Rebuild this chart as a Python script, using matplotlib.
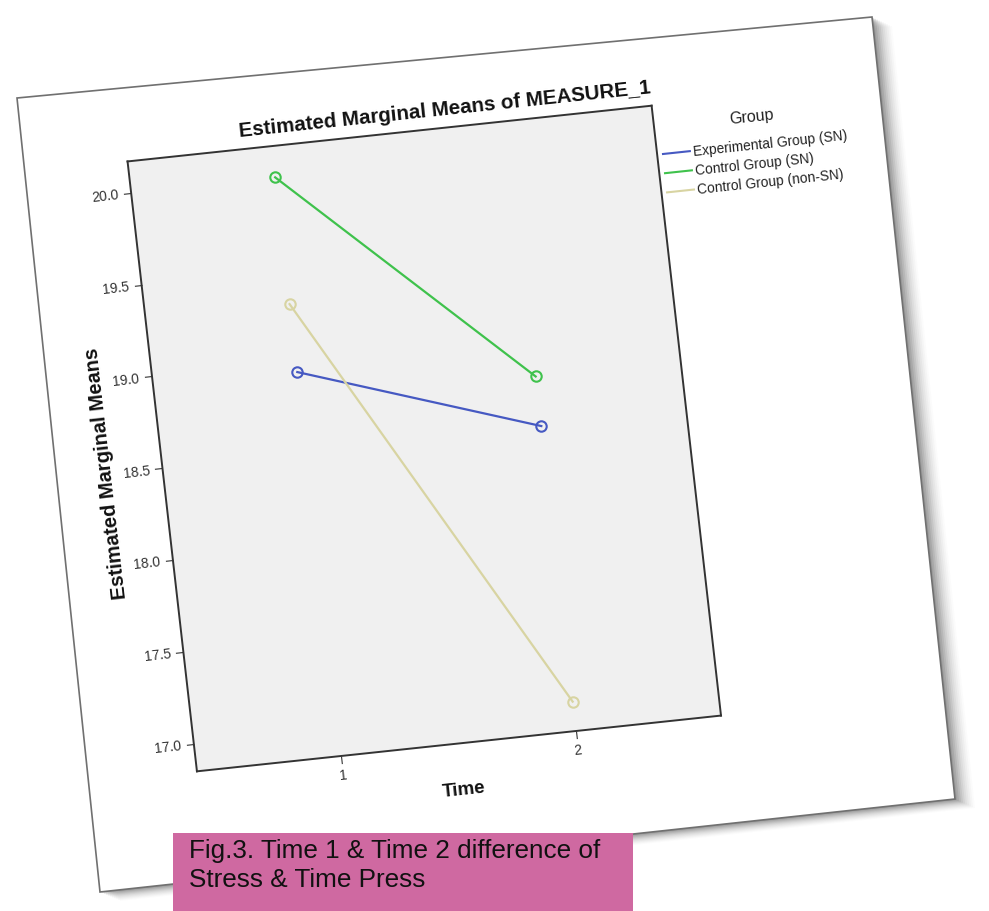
import numpy as np
import matplotlib
matplotlib.use("Agg")
import matplotlib.pyplot as plt
from matplotlib.transforms import Affine2D
from matplotlib.patches import Polygon, Rectangle
import mpl_toolkits.axisartist.floating_axes as floating_axes
from mpl_toolkits.axisartist.grid_finder import FixedLocator, DictFormatter

plt.rcParams['font.family'] = ['Liberation Sans', 'DejaVu Sans']

W, H = 989, 912

# data
times = [1, 2]
exp_sn = [18.94, 18.51]
ctrl_sn = [20.00, 18.78]
ctrl_non_sn = [19.31, 17.01]
series = [exp_sn, ctrl_sn, ctrl_non_sn]
group_names = ["Experimental Group (SN)", "Control Group (SN)", "Control Group (non-SN)"]
colors = ["#4659c2", "#3fc24c", "#d8d4a2"]
x_ticks = [1, 2]
y_ticks = [17.0, 17.5, 18.0, 18.5, 19.0, 19.5, 20.0]
x_range = (0.387, 2.617)
y_range = (16.85, 20.17)
caption_lines = ["Fig.3. Time 1 & Time 2 difference of", "Stress & Time Press"]

# the chart in the picture is a tilted scan: data -> pixel (y up)
origin = (341.0, H - 757.0)
ux = (235.0, 25.0)      # one step of Time
uy = (-20.9, 183.7)     # one unit of the mean
tilt = np.degrees(np.arctan2(ux[1], ux[0]))
tr = Affine2D().translate(-x_ticks[0], -y_range[0]) + Affine2D(np.array([
    [ux[0], uy[0], origin[0]],
    [ux[1], uy[1], origin[1]],
    [0, 0, 1]]))

fig = plt.figure(figsize=(W / 100, H / 100), dpi=100)

# page behind the chart
bg = fig.add_axes([0, 0, 1, 1])
bg.set_xlim(0, W)
bg.set_ylim(0, H)
bg.axis('off')


def px(x, y):
    return (x, H - y)


page = [px(17, 99), px(872, 18), px(955, 800), px(100, 893)]
for k, a in zip(range(20, 0, -2), [0.02, 0.03, 0.04, 0.05, 0.06, 0.08, 0.10, 0.12, 0.15, 0.18]):
    shadow = [(x + k * 1.0, y - k * 0.45) for x, y in page]
    bg.add_patch(Polygon(shadow, closed=True, fc='#555555', ec='none', alpha=a))
bg.add_patch(Polygon(page, closed=True, fc='white', ec='#707070', lw=1.2))

# title and legend, tilted like the chart
bg.text(*px(445, 110), "Estimated Marginal Means of MEASURE_1", rotation=tilt,
        rotation_mode='anchor', ha='center', va='center', fontsize=14.8,
        fontweight='bold', color='#111111')
bg.text(*px(752, 117), "Group", rotation=tilt, rotation_mode='anchor',
        ha='center', va='center', fontsize=11.5, color='#222222')
c, s = np.cos(np.radians(tilt)), np.sin(np.radians(tilt))
lx, ly = px(663, 155)
for i, (name, col) in enumerate(zip(group_names, colors)):
    bx, by = lx + i * 19.3 * s, ly - i * 19.3 * c
    bg.plot([bx, bx + 27 * c], [by, by + 27 * s], color=col, lw=1.5)
    bg.text(bx + 30 * c, by + 30 * s, name, rotation=tilt,
            rotation_mode='anchor', ha='left', va='center', fontsize=9.9,
            color='#222222')

# caption box
bg.add_patch(Rectangle(px(173, 912), 633 - 173, 912 - 834, fc='#cf69a1', ec='none'))
for i, line in enumerate(caption_lines):
    bg.text(*px(189, 858 + i * 29), line, ha='left', va='baseline',
            fontsize=18.8, color='#111111')

# tilted plot area
gh = floating_axes.GridHelperCurveLinear(
    tr, extremes=(x_range[0], x_range[1], y_range[0], y_range[1]),
    grid_locator1=FixedLocator(x_ticks),
    grid_locator2=FixedLocator(y_ticks),
    tick_formatter1=DictFormatter({t: str(t) for t in x_ticks}),
    tick_formatter2=DictFormatter({v: f"{v:.1f}" for v in y_ticks}))
ax = fig.add_axes([0, 0, 1, 1], axes_class=floating_axes.FloatingAxes, grid_helper=gh)
ax.set_xlim(0, W)
ax.set_ylim(0, H)
ax.patch.set_facecolor('#f0f0f0')

for side in ["left", "right", "top", "bottom"]:
    ax.axis[side].line.set_color('#333333')
    ax.axis[side].line.set_linewidth(1.4)
for side in ["right", "top"]:
    ax.axis[side].toggle(ticks=False, ticklabels=False, label=False)
for side in ["left", "bottom"]:
    ax.axis[side].major_ticks.set_tick_out(True)
    ax.axis[side].major_ticks.set_ticksize(5.5)
    ax.axis[side].major_ticks.set_color('#333333')
    ax.axis[side].major_ticklabels.set_fontsize(10)
    ax.axis[side].major_ticklabels.set_color('#333333')
    ax.axis[side].label.set_fontweight('bold')
    ax.axis[side].label.set_color('#111111')
ax.axis["left"].label.set_text("Estimated Marginal Means")
ax.axis["left"].label.set_fontsize(14.5)
ax.axis["bottom"].label.set_text("Time")
ax.axis["bottom"].label.set_fontsize(13.5)
ax.axis["left"].label.set_pad(5)
ax.axis["bottom"].label.set_pad(11)

aux = ax.get_aux_axes(tr)
for vals, col in zip(series, colors):
    aux.plot(times, vals, color=col, lw=1.6, marker='o', ms=7.5,
             mfc='none', mec=col, mew=1.5)

fig.savefig("out.png", dpi=100)
